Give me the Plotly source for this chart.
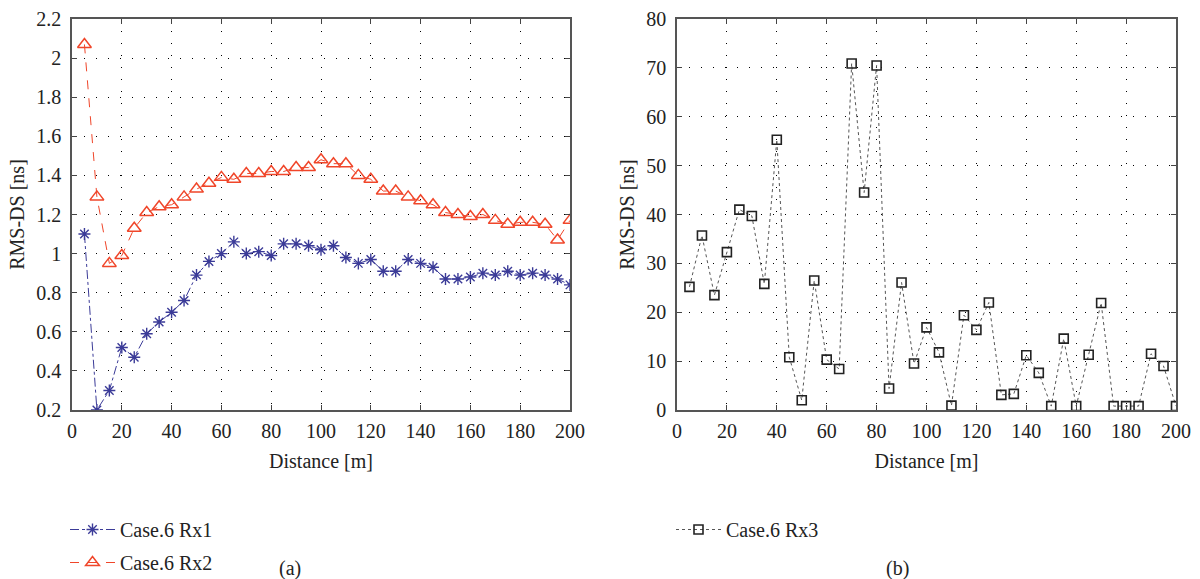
import plotly.graph_objects as go

# Distance samples (m)
distance = list(range(5, 205, 5))

# RMS delay spread (ns), Case 6
rx1 = [1.10, 0.20, 0.30, 0.52, 0.47, 0.59, 0.65, 0.70, 0.76, 0.89,
       0.96, 1.00, 1.06, 1.00, 1.01, 0.99, 1.05, 1.05, 1.04, 1.02,
       1.04, 0.98, 0.95, 0.97, 0.91, 0.91, 0.97, 0.95, 0.93, 0.87,
       0.87, 0.88, 0.90, 0.89, 0.91, 0.89, 0.90, 0.89, 0.87, 0.84]
rx2 = [2.07, 1.29, 0.95, 0.99, 1.13, 1.21, 1.24, 1.25, 1.29, 1.33,
       1.36, 1.39, 1.38, 1.41, 1.41, 1.42, 1.42, 1.44, 1.44, 1.48,
       1.46, 1.46, 1.40, 1.38, 1.32, 1.32, 1.29, 1.27, 1.25, 1.21,
       1.20, 1.19, 1.20, 1.17, 1.15, 1.16, 1.16, 1.15, 1.07, 1.17]
rx3 = [25.2, 35.7, 23.5, 32.3, 41.0, 39.7, 25.8, 55.3, 10.8, 2.0,
       26.5, 10.3, 8.4, 70.9, 44.5, 70.5, 4.4, 26.1, 9.5, 16.9,
       11.8, 0.9, 19.4, 16.4, 22.0, 3.1, 3.3, 11.2, 7.6, 0.8,
       14.6, 0.8, 11.3, 21.9, 0.8, 0.8, 0.8, 11.5, 9.0, 0.8]

x_ticks = list(range(0, 201, 20))

FONT = "Liberation Serif"
W, H = 1200, 579
NAVY = "#3b3b98"
RED = "#f0462a"
INK = "#222222"

fig = go.Figure()

fig.add_trace(go.Scatter(
    x=distance, y=rx1, name="Case.6 Rx1", mode="lines+markers",
    line=dict(color=NAVY, width=1, dash="dashdot"),
    marker=dict(symbol="asterisk-open", size=10, color=NAVY,
                line=dict(color=NAVY, width=1.4)),
    xaxis="x", yaxis="y", legend="legend", legendgroup="a1"))
fig.add_trace(go.Scatter(
    x=distance, y=rx2, name="Case.6 Rx2", mode="lines+markers",
    line=dict(color=RED, width=1, dash="dash"),
    marker=dict(symbol="triangle-up-open", size=12, color=RED,
                line=dict(color=RED, width=1.5)),
    xaxis="x", yaxis="y", legend="legend", legendgroup="a2"))
fig.add_trace(go.Scatter(
    x=distance, y=rx3, name="Case.6 Rx3", mode="lines+markers",
    line=dict(color="#555555", width=1, dash="dot"),
    marker=dict(symbol="square-open", size=9, color=INK,
                line=dict(color=INK, width=1.6)),
    xaxis="x2", yaxis="y2", legend="legend2", legendgroup="b1"))

y_dom = [1 - 410 / H, 1 - 19 / H]
axis_common = dict(
    showline=True, linecolor="#555555", linewidth=1.5, mirror="ticks",
    ticks="inside", ticklen=5, tickcolor="#444444", tickwidth=1.2,
    showgrid=True, gridcolor="#000000", gridwidth=1, griddash="1px,11px",
    zeroline=False, automargin=False,
    tickfont=dict(family=FONT, size=20, color=INK),
)
title_font = dict(family=FONT, size=20, color=INK)

fig.update_layout(
    width=W, height=H,
    margin=dict(l=0, r=0, t=0, b=0, autoexpand=False),
    paper_bgcolor="white", plot_bgcolor="white",
    font=dict(family=FONT, size=20, color=INK),
    xaxis=dict(domain=[72 / W, 570 / W], range=[0, 200], tickvals=x_ticks,
               anchor="y", ticklabelstandoff=2,
               title=dict(text="Distance [m]", standoff=13, font=title_font),
               **axis_common),
    yaxis=dict(domain=y_dom, range=[0.2, 2.2], dtick=0.2, anchor="x",
               ticklabelstandoff=5,
               title=dict(text="RMS-DS [ns]", standoff=6, font=title_font),
               **axis_common),
    xaxis2=dict(domain=[677 / W, 1176 / W], range=[0, 200], tickvals=x_ticks,
                anchor="y2", ticklabelstandoff=2,
                title=dict(text="Distance [m]", standoff=13, font=title_font),
                **axis_common),
    yaxis2=dict(domain=y_dom, range=[0, 80], dtick=10, anchor="x2",
                ticklabelstandoff=5,
                title=dict(text="RMS-DS [ns]", standoff=6, font=title_font),
                **axis_common),
    legend=dict(x=65 / W, y=1 - 510 / H, xanchor="left", yanchor="top",
                bgcolor="rgba(0,0,0,0)", tracegroupgap=4, itemwidth=45,
                font=dict(family=FONT, size=20, color=INK)),
    legend2=dict(x=671 / W, y=1 - 510 / H, xanchor="left", yanchor="top",
                 bgcolor="rgba(0,0,0,0)", itemwidth=45,
                 font=dict(family=FONT, size=20, color=INK)),
    annotations=[
        dict(text="(a)", x=290 / W, y=1 - 568 / H, xref="paper", yref="paper",
             xanchor="center", yanchor="middle", showarrow=False,
             font=dict(family=FONT, size=20, color=INK)),
        dict(text="(b)", x=897 / W, y=1 - 568 / H, xref="paper", yref="paper",
             xanchor="center", yanchor="middle", showarrow=False,
             font=dict(family=FONT, size=20, color=INK)),
    ],
)

fig.write_html("out.html")
